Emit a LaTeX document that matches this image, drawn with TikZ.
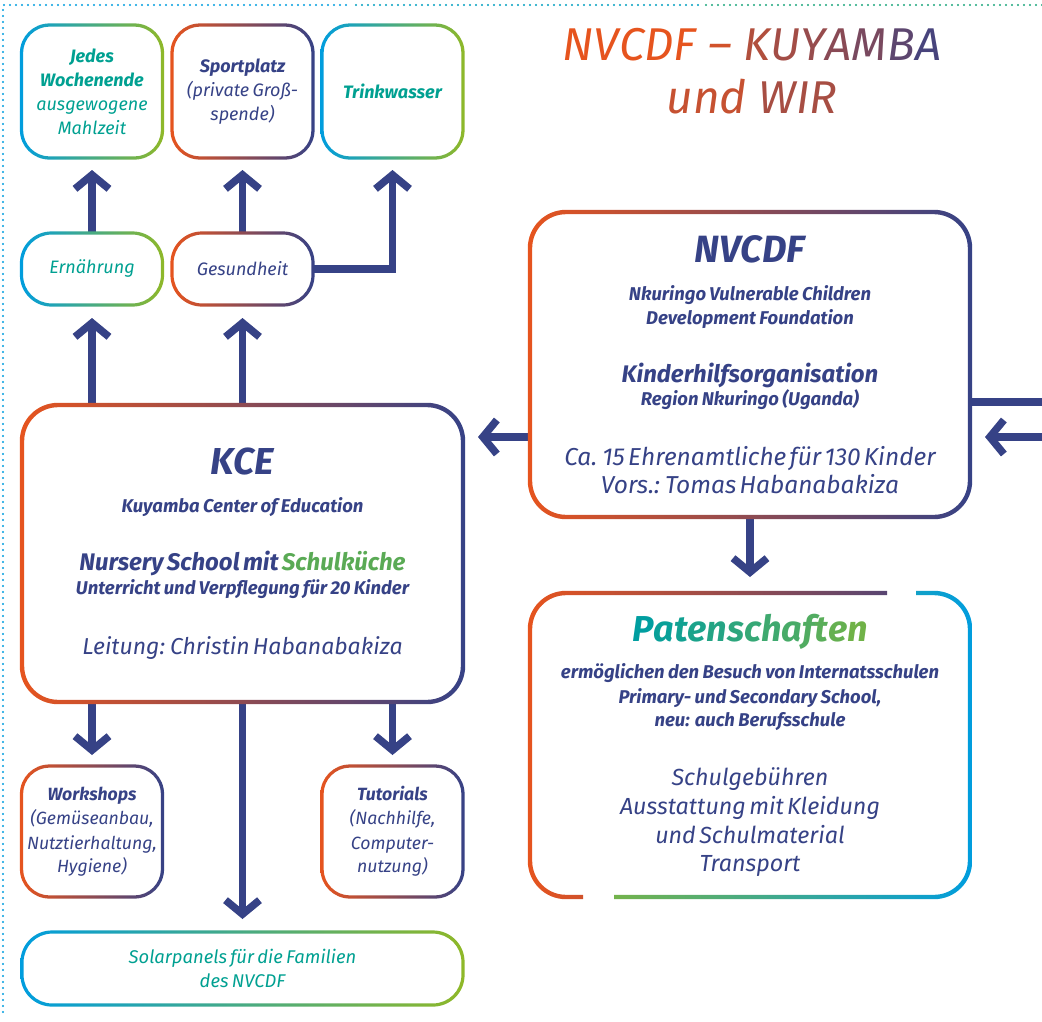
\documentclass[tikz,border=0pt]{standalone}
\usepackage{fontspec}
\setmainfont{Fira Sans}
\usetikzlibrary{arrows.meta,calc}

\definecolor{navy}{RGB}{54,66,134}
\definecolor{kyorange}{RGB}{230,84,30}
\definecolor{kyblue}{RGB}{0,157,222}
\definecolor{kyteal}{RGB}{0,160,145}
\definecolor{kygreen}{RGB}{143,184,40}
\definecolor{kitchen}{RGB}{90,170,85}
\definecolor{patstart}{RGB}{0,158,160}
\definecolor{patend}{RGB}{112,178,72}
\colorlet{tdash}{kyorange!88!navy}
\colorlet{tund}{kyorange!82!navy}
\colorlet{twir}{kyorange!64!navy}

\setlength{\parindent}{0pt}
\setlength{\parskip}{0pt}

\newcommand{\boxline}[3]{{\fontsize{#1}{#2}\selectfont #3\par}}
\newcommand{\titlec}[2]{\textcolor{kyorange!#1!navy}{#2}}
\newcommand{\patc}[2]{\textcolor{patstart!#1!patend}{#2}}
\newcommand{\tgap}{\kern 12pt}
\newcommand{\frameit}[4]{%
  \pgfmathsetmacro{\frOut}{#3+#4}\pgfmathsetmacro{\frIn}{#3-#4}%
  \shade[#2, even odd rule]
    [rounded corners=\frOut pt] ($(#1.north west)+(-#4,-#4)$) rectangle ($(#1.south east)+(#4,#4)$)
    [rounded corners=\frIn pt] ($(#1.north west)+(#4,#4)$) rectangle ($(#1.south east)+(-#4,-#4)$);
}

\begin{document}
\begin{tikzpicture}[x=1pt,y=-1pt,
  box/.style={inner sep=0pt, outer sep=0pt, align=center, text=navy, font=\itshape},
  small/.style={box, minimum width=141pt, minimum height=133pt, text width=138pt},
  pill/.style={box, minimum width=141pt, minimum height=72pt, text width=138pt},
  big/.style={box, minimum width=441pt, minimum height=300pt, text width=430pt},
  arr/.style={line width=7.5pt, draw=navy, line join=miter, shorten >=13pt,
    -{Straight Barb[length=14pt,width=34pt]}},
  link/.style={line width=7.5pt, draw=navy, line join=miter},
  dots/.style={line width=2.4pt, dash pattern=on 0pt off 6pt, line cap=round},
  warm/.style={left color=kyorange, right color=navy},
  cool/.style={left color=kyblue, middle color=kyteal, right color=kygreen}]

\useasboundingbox (0,0) rectangle (1042,1021);

\draw[dots, kyblue] (3,1012) -- (3,5) -- (350,5);
\draw[dots, kyblue!60!kyteal] (356,5) -- (700,5);
\draw[dots, kyteal!80!kygreen] (706,5) -- (1042,5);

\node[box, text width=480pt] (title) at (752,71) {%
  \boxline{46}{10}{{\color{kyorange}NVCDF}\tgap{\color{tdash}–}\tgap\titlec{70}{K}\titlec{62}{U}\titlec{55}{Y}\titlec{47}{A}\titlec{38}{M}\titlec{22}{B}\titlec{10}{A}}
  \boxline{46}{53}{{\color{tund}und}\tgap{\color{twir}WIR}}};

\node[small, text=kyteal] (jedes) at (92,91.5) {%
  \boxline{18}{10}{\bfseries Jedes}
  \boxline{18}{24}{\bfseries Wochenende}
  \boxline{18}{24}{ausgewogene}
  \boxline{18}{24}{Mahlzeit}};
\node[small] (sport) at (242.5,91.5) {%
  \boxline{18}{10}{\bfseries Sportplatz}
  \boxline{18}{24}{(private Groß-}
  \boxline{18}{24}{spende)}};
\node[small, text=kyteal] (trink) at (392.5,91.5) {\boxline{18}{10}{\bfseries Trinkwasser}};

\node[pill, text=kyteal] (ern) at (92,269) {\boxline{18}{10}{Ernährung}};
\node[pill] (ges) at (242.5,269) {\boxline{18}{10}{Gesundheit}};

\node[big, minimum height=297pt] (kce) at (242.5,553.5) {%
  \boxline{37.5}{10}{\bfseries KCE}
  \boxline{18.5}{38}{\bfseries Kuyamba Center of Education}
  \boxline{24}{58}{\bfseries Nursery School mit \textcolor{kitchen}{Schulküche}}
  \boxline{18.5}{24}{\bfseries Unterricht und Verpflegung für 20 Kinder}
  \boxline{23}{60}{Leitung: Christin Habanabakiza}};

\node[big, minimum width=440pt, minimum height=305pt] (nvcdf) at (750,364.5) {%
  \boxline{38}{10}{\bfseries NVCDF}
  \boxline{18.5}{38}{\bfseries Nkuringo Vulnerable Children}
  \boxline{18.5}{24}{\bfseries Development Foundation}
  \boxline{24}{58}{\bfseries Kinderhilfsorganisation}
  \boxline{18.5}{23}{\bfseries Region Nkuringo (Uganda)}
  \boxline{24.5}{60}{Ca. 15 Ehrenamtliche für 130 Kinder}
  \boxline{24.5}{28}{Vors.: Tomas Habanabakiza}};

\node[big, minimum width=440pt, minimum height=304pt] (paten) at (750,745) {%
  \boxline{36}{10}{\bfseries \patc{100}{P}\patc{92}{a}\patc{84}{t}\patc{76}{e}\patc{68}{n}\patc{60}{s}\patc{52}{c}\patc{44}{h}\patc{36}{a}\patc{28}{f}\patc{20}{t}\patc{10}{e}\patc{0}{n}}
  \boxline{18.5}{37}{\bfseries ermöglichen den Besuch von Internatsschulen}
  \boxline{18.5}{25}{\bfseries Primary- und Secondary School,}
  \boxline{18.5}{23}{\bfseries neu: auch Berufsschule}
  \boxline{23.3}{59}{Schulgebühren}
  \boxline{23.3}{29}{Ausstattung mit Kleidung}
  \boxline{23.3}{29}{und Schulmaterial}
  \boxline{23.3}{28}{Transport}};

\node[small, minimum height=131pt] (work) at (92,831.5) {%
  \boxline{17.7}{10}{\bfseries Workshops}
  \boxline{17.7}{24}{(Gemüseanbau,}
  \boxline{17.7}{25}{Nutztierhaltung,}
  \boxline{17.7}{23}{Hygiene)}};
\node[small, minimum height=131pt] (tut) at (392.5,831.5) {%
  \boxline{17.7}{10}{\bfseries Tutorials}
  \boxline{17.7}{24}{(Nachhilfe,}
  \boxline{17.7}{25}{Computer-}
  \boxline{17.7}{23}{nutzung)}};

\node[big, minimum height=73pt, text=kyteal] (solar) at (242.5,968.5) {%
  \boxline{18.4}{10}{Solarpanels für die Familien}
  \boxline{18.4}{24}{des NVCDF}};

\coordinate (rin) at (1042,437);
\coordinate (rout) at (1042,402);

\draw[arr, shorten >=12pt] (ern.north) -- (jedes.south);
\draw[arr, shorten >=12pt] (ges.north) -- (sport.south);
\draw[arr, shorten >=12pt] (ges.east) -| (trink.south);
\draw[arr] (kce.north -| ern) -- (ern.south);
\draw[arr] (kce.north -| ges) -- (ges.south);
\draw[arr, shorten >=11pt] (kce.south -| work) -- (work.north);
\draw[arr, shorten >=11pt] (kce.south -| tut) -- (tut.north);
\draw[arr] (kce.south) -- (solar.north);
\draw[arr, shorten >=15pt] (rin -| nvcdf.west) -- (rin -| kce.east);
\draw[arr, shorten >=15pt] (rin) -- (rin -| nvcdf.east);
\draw[link] (rout -| nvcdf.east) -- (rout);
\draw[arr, shorten >=16pt] (nvcdf.south) -- (paten.north);

\frameit{jedes}{cool}{28}{1.6}
\frameit{sport}{warm}{28}{1.6}
\frameit{trink}{cool}{28}{1.6}
\frameit{ern}{cool}{30}{1.6}
\frameit{ges}{warm}{30}{1.6}
\frameit{kce}{warm}{36}{2.2}
\frameit{nvcdf}{warm}{36}{2.2}
\frameit{work}{warm}{28}{1.6}
\frameit{tut}{warm}{28}{1.6}
\frameit{solar}{cool}{30}{1.6}

\begin{scope}
  \clip (520,580) -- (887,580) -- (887,745) -- (583,745) -- (583,910) -- (520,910) -- cycle;
  \frameit{paten}{warm}{36}{2.2}
\end{scope}
\begin{scope}
  \clip (916,580) -- (985,580) -- (985,910) -- (614,910) -- (614,745) -- (916,745) -- cycle;
  \frameit{paten}{left color=kygreen, middle color=kyteal, right color=kyblue}{36}{2.2}
\end{scope}

\end{tikzpicture}
\end{document}
